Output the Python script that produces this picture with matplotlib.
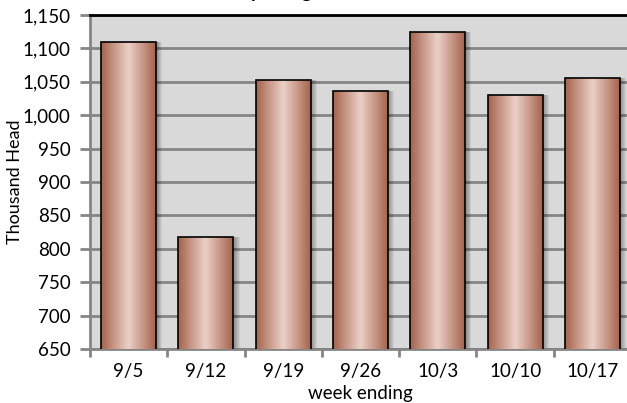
import numpy as np
import matplotlib
matplotlib.use("Agg")
import matplotlib.pyplot as plt
from matplotlib.colors import LinearSegmentedColormap

weeks = ["9/5", "9/12", "9/19", "9/26", "10/3", "10/10", "10/17"]
head = [1109, 817, 1052, 1036, 1125, 1030, 1056]
y_ticks = list(range(650, 1151, 50))

plt.rcParams['font.family'] = ['Lato', 'DejaVu Sans']

fig = plt.figure(figsize=(6.27, 4.03), dpi=100)
# plot area runs a little past the right edge, as in the original
ax = fig.add_axes([90 / 627, 1 - 349 / 403, 541 / 627, 334 / 403])
ax.set_facecolor("#d9d9d9")

x = np.arange(len(weeks))
width = 0.71
y_min, y_max = 650, 1150

# soft shadow to the right of each bar
for k in range(6):
    ax.bar(x + 0.02 + k * 0.012, head, width=width, bottom=0, color="black",
           alpha=0.06, linewidth=0, zorder=2)

bars = ax.bar(x, head, width=width, color="none", edgecolor="black",
              linewidth=1.2, zorder=4)

copper = LinearSegmentedColormap.from_list(
    "copper", ["#a4634c", "#c99a8a", "#ebd0c8", "#c99a8a", "#a4634c"])
grad = np.linspace(0, 1, 256).reshape(1, -1)
for b in bars:
    x0, w, h = b.get_x(), b.get_width(), b.get_height()
    im = ax.imshow(grad, cmap=copper, aspect="auto",
                   extent=[x0, x0 + w, y_min, h], zorder=3)
    im.set_clip_path(b)

ax.set_xlim(-0.5, len(weeks) - 0.5)
ax.set_ylim(y_min, y_max)
ax.set_yticks(y_ticks)
ax.set_yticklabels([f"{v:,}" for v in y_ticks])
ax.yaxis.grid(True, color="#858585", linewidth=2)
ax.set_axisbelow(True)

ax.set_xticks(x)
ax.set_xticklabels(weeks)
ax.set_xticks(np.arange(-0.5, len(weeks)), minor=True)
ax.tick_params(axis="x", which="major", length=0, pad=10, labelsize=13.5)
ax.tick_params(axis="x", which="minor", length=6, width=2, color="#858585")
ax.tick_params(axis="y", length=7, width=2, color="#858585", labelsize=13.5, pad=7)

for s in ["left", "bottom"]:
    ax.spines[s].set_color("#858585")
    ax.spines[s].set_linewidth(2)
ax.spines["top"].set_color("black")
ax.spines["top"].set_linewidth(2)
ax.spines["right"].set_visible(False)

ax.set_ylabel("Thousand Head", fontsize=13)
ax.yaxis.set_label_coords(-0.124, 0.5)
ax.set_xlabel("week ending", fontsize=13.5, labelpad=4)

# title sits mostly above the visible area
fig.text(0.431, 1.0 + 2 / 403, "Weekly Slaughter", fontsize=14, fontweight="bold",
         ha="center", va="baseline")

plt.savefig("out.png", dpi=100)
